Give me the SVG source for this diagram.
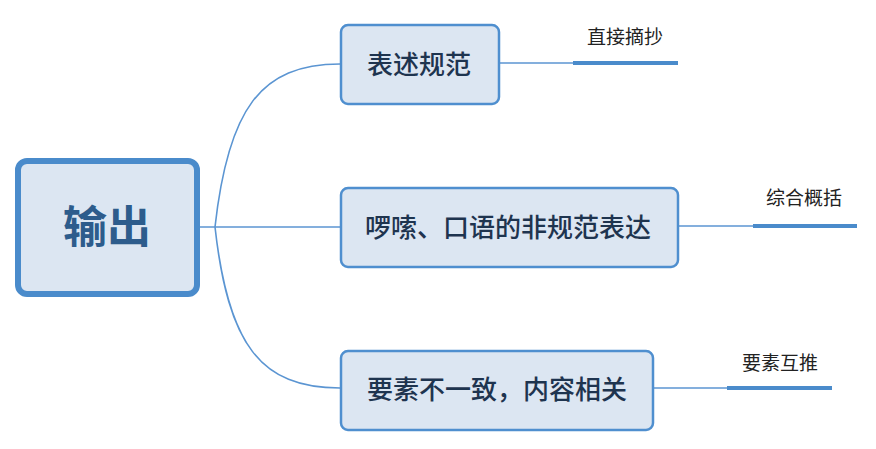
<svg xmlns="http://www.w3.org/2000/svg" width="876" height="449" viewBox="0 0 876 449">
<style>
.box{fill:#dce6f2;stroke:#4f8fcf;stroke-width:2.5}
.root{fill:#dce6f2;stroke:#4a8bcb;stroke-width:6}
.conn{fill:none;stroke:#5b95d2;stroke-width:1.6}
.thick{fill:none;stroke:#4a8bcb;stroke-width:4}
.t{font-family:"Noto Sans CJK SC","Noto Sans",sans-serif;text-anchor:middle}
.bt{font-size:26px;font-weight:500;fill:#1e344f}
.rt{font-size:44px;font-weight:700;fill:#2d5c8c}
.lt{font-size:19px;fill:#222}
</style>
<rect width="876" height="449" fill="#fff"/>
<g id="connectors">
<path class="conn" d="M200,227 H340"/>
<path class="conn" d="M215,227 C228,110 260,64 340,64"/>
<path class="conn" d="M215,227 C228,344 260,388 340,388"/>
<path class="conn" d="M500,63 H573"/>
<path class="thick" d="M573,63 H678"/>
<path class="conn" d="M678,226 H753"/>
<path class="thick" d="M753,226 H857"/>
<path class="conn" d="M653,388 H727"/>
<path class="thick" d="M727,388 H832"/>
</g>
<g id="root">
<rect class="root" x="18" y="161" width="179" height="133" rx="9"/>
<text class="t rt" x="107" y="243">输出</text>
</g>
<g id="n1">
<rect class="box" x="341" y="25" width="158" height="79" rx="7"/>
<text class="t bt" x="419" y="74">表述规范</text>
</g>
<g id="n2">
<rect class="box" x="341" y="188" width="337" height="79" rx="7"/>
<text class="t bt" x="508" y="237">啰嗦、口语的非规范表达</text>
</g>
<g id="n3">
<rect class="box" x="341" y="351" width="312" height="79" rx="7"/>
<text class="t bt" x="497" y="399">要素不一致，内容相关</text>
</g>
<g id="l1"><text class="t lt" x="625" y="44">直接摘抄</text></g>
<g id="l2"><text class="t lt" x="804" y="205">综合概括</text></g>
<g id="l3"><text class="t lt" x="780" y="370">要素互推</text></g>
</svg>
